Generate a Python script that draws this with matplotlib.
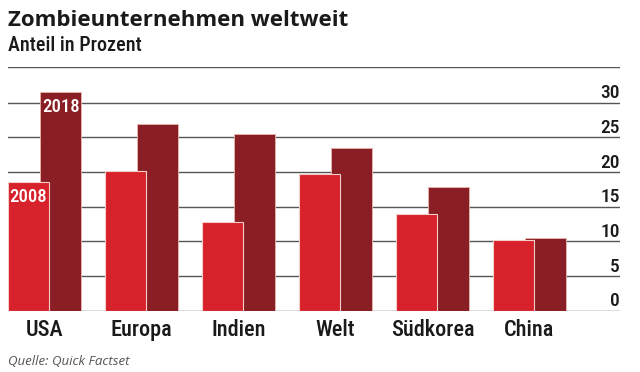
import matplotlib
matplotlib.use('Agg')
import matplotlib.pyplot as plt
import matplotlib.transforms as mtransforms
from matplotlib import font_manager as fm
import numpy as np

# Data (share of zombie companies, percent)
categories = ['USA', 'Europa', 'Indien', 'Welt', 'Südkorea', 'China']
values_2008 = [18.5, 20.2, 12.8, 19.7, 13.9, 10.2]
values_2018 = [31.5, 26.9, 25.5, 23.4, 17.9, 10.5]
y_ticks = [0, 5, 10, 15, 20, 25, 30]

RED = '#d7212b'
DARK = '#891f24'
GRID = '#555555'
INK = '#1a1a1a'


def first_font(cands):
    have = {f.name for f in fm.fontManager.ttflist}
    for c in cands:
        if c in have:
            return c
    return 'DejaVu Sans'


COND = first_font(['Roboto Condensed', 'Archivo Narrow', 'Barlow Semi Condensed'])
TITLE = first_font(['Open Sans', 'Noto Sans'])
scale = 1.0 if COND != 'DejaVu Sans' else 0.8

W, H = 640, 372
fig = plt.figure(figsize=(6.4, 3.72), dpi=100)
fig.patch.set_facecolor('white')


def fy(px):
    return 1 - px / H


# axes placed in pixel terms of the reference
ax = fig.add_axes([8 / W, fy(310.7), (620 - 8) / W, (310.7 - 67) / H])
ax.set_xlim(-0.376, 5.933)
ax.set_ylim(0, 35.15)
ax.axis('off')

# gridlines behind the bars (plus the top rule)
for v in y_ticks + [35.15]:
    ax.axhline(v, color=GRID, lw=1.0, zorder=1)

x = np.arange(len(categories))
bw = 0.42
off = 0.168
ax.bar(x + off, values_2018, width=bw, color=DARK, edgecolor='#e9b6b0',
       linewidth=0.6, zorder=2)
ax.bar(x - off, values_2008, width=bw, color=RED, edgecolor='#f5cdc8',
       linewidth=0.8, zorder=3)

# series labels inside the USA bars
ax.text(x[0] - off, values_2008[0] - 0.75, '2008', color='white', ha='center',
        va='top', fontsize=13.5 * scale, family=COND, weight=500, zorder=4)
ax.text(x[0] + off, values_2018[0] - 0.75, '2018', color='white', ha='center',
        va='top', fontsize=13.5 * scale, family=COND, weight=500, zorder=4)

# y tick labels on the right, sitting on top of the lines
for v in y_ticks:
    ax.text(1.0, v + 0.65, str(v), transform=ax.get_yaxis_transform(),
            ha='right', va='baseline', fontsize=14 * scale, family=COND,
            weight=500, color=INK)

# category labels
tr = mtransforms.blended_transform_factory(ax.transData, fig.transFigure)
for xi, c in zip(x, categories):
    ax.text(xi, fy(336), c, transform=tr, ha='center', va='baseline',
            fontsize=16 * scale, family=COND, weight=500, color=INK)

fig.text(8 / W, fy(26), 'Zombieunternehmen weltweit', ha='left', va='baseline',
         fontsize=16, fontweight='bold', family=TITLE, color=INK)
fig.text(8 / W, fy(51), 'Anteil in Prozent', ha='left', va='baseline',
         fontsize=14.5 * scale, family=COND, weight=500, color=INK)
fig.text(8 / W, fy(365), 'Quelle: Quick Factset', ha='left', va='baseline',
         fontsize=9.5, style='italic', family=[TITLE, 'DejaVu Sans'],
         color='#555555')

fig.savefig('out.png', dpi=100)
